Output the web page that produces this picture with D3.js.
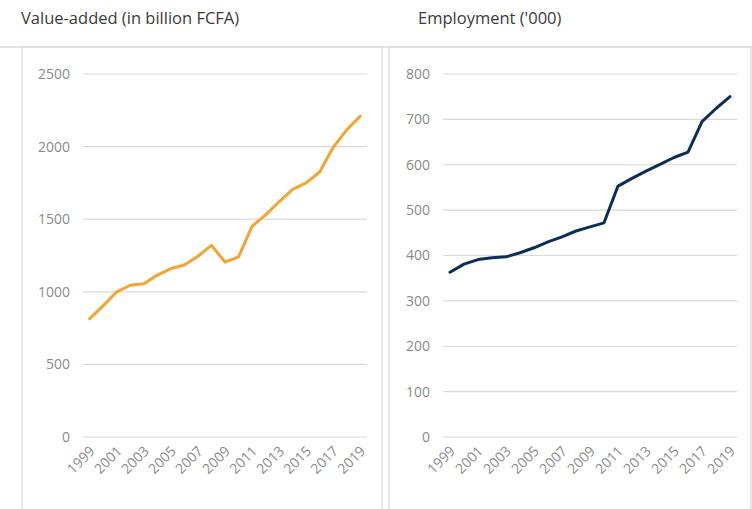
<!DOCTYPE html>
<html>
<head>
<meta charset="utf-8">
<script src="https://cdn.jsdelivr.net/npm/d3@7"></script>
<style>
  body { margin: 0; background: #fff; }
  svg { display: block; font-family: "Open Sans", "Liberation Sans", sans-serif; }
  .title { fill: #3a3a3a; font-size: 16.5px; }
  .tick-label { fill: #8a8a8a; font-size: 14px; }
  .grid line { stroke: #d9d9d9; stroke-width: 1.2; }
</style>
</head>
<body>
<div id="chart"></div>
<script>
const years = d3.range(1999, 2020).map(String);
const yearLabels = ["1999", "2001", "2003", "2005", "2007", "2009", "2011", "2013", "2015", "2017", "2019"];

// value-added, billion FCFA
const valueAdded = [815, 905, 1000, 1045, 1055, 1115, 1160, 1185, 1245, 1320, 1205,
  1240, 1450, 1530, 1620, 1705, 1750, 1825, 1995, 2115, 2210];
const valueAddedTicks = [0, 500, 1000, 1500, 2000, 2500];

// employment, thousands
const employment = [363, 381, 391, 395, 397, 406, 417, 430, 441, 454, 463,
  472, 553, 570, 586, 601, 616, 628, 695, 724, 750];
const employmentTicks = [0, 100, 200, 300, 400, 500, 600, 700, 800];

let width = 752, height = 509;

let svg = d3.select('#chart').append('svg')
  .attr('width', width)
  .attr('height', height);

// top rule above both panels
svg.append('line')
  .attr('x1', 0).attr('x2', width)
  .attr('y1', 47).attr('y2', 47)
  .attr('stroke', '#e3e3e3').attr('stroke-width', 2);

function drawPanel(opts) {
  let g = svg.append('g');

  g.append('rect')
    .attr('x', opts.frame[0])
    .attr('y', 47)
    .attr('width', opts.frame[1] - opts.frame[0])
    .attr('height', height - 46)
    .attr('fill', 'none')
    .attr('stroke', '#dedede')
    .attr('stroke-width', 1.5);

  g.append('text')
    .attr('class', 'title')
    .attr('x', opts.titleX)
    .attr('y', 24)
    .text(opts.title);

  let x = d3.scaleBand().domain(years).range([opts.left, opts.right]);
  let y = d3.scaleLinear().domain([0, d3.max(opts.ticks)]).range([437, 74]);

  let grid = g.append('g').attr('class', 'grid');
  grid.selectAll('line')
    .data(opts.ticks)
    .enter()
    .append('line')
    .attr('x1', opts.left)
    .attr('x2', opts.right)
    .attr('y1', (d) => y(d))
    .attr('y2', (d) => y(d));

  let yAxis = d3.axisLeft(y).tickValues(opts.ticks).tickFormat(d3.format('d')).tickSize(0).tickPadding(0);
  let gY = g.append('g')
    .attr('transform', 'translate(' + (opts.left - 13) + ',0)')
    .call(yAxis);
  gY.select('.domain').remove();
  gY.attr('font-size', null).attr('font-family', null);
  gY.selectAll('text').attr('class', 'tick-label').attr('fill', null);

  g.selectAll('.xlabel')
    .data(yearLabels)
    .enter()
    .append('text')
    .attr('class', 'tick-label xlabel')
    .attr('text-anchor', 'end')
    .attr('transform', (d) => 'translate(' + (x(d) + x.bandwidth() / 2 + 6) + ',452) rotate(-45)')
    .text((d) => d);

  let line = d3.line()
    .x((d, i) => x(years[i]) + x.bandwidth() / 2)
    .y((d) => y(d));

  g.append('path')
    .datum(opts.values)
    .attr('d', line)
    .attr('fill', 'none')
    .attr('stroke', opts.color)
    .attr('stroke-width', 3)
    .attr('stroke-linejoin', 'round')
    .attr('stroke-linecap', 'round');
}

drawPanel({
  title: 'Value-added (in billion FCFA)',
  titleX: 21,
  frame: [22, 382],
  left: 83,
  right: 367,
  ticks: valueAddedTicks,
  values: valueAdded,
  color: '#F2A533'
});

drawPanel({
  title: "Employment ('000)",
  titleX: 418,
  frame: [389, 751],
  left: 443,
  right: 737,
  ticks: employmentTicks,
  values: employment,
  color: '#0E2D55'
});
</script>
</body>
</html>
